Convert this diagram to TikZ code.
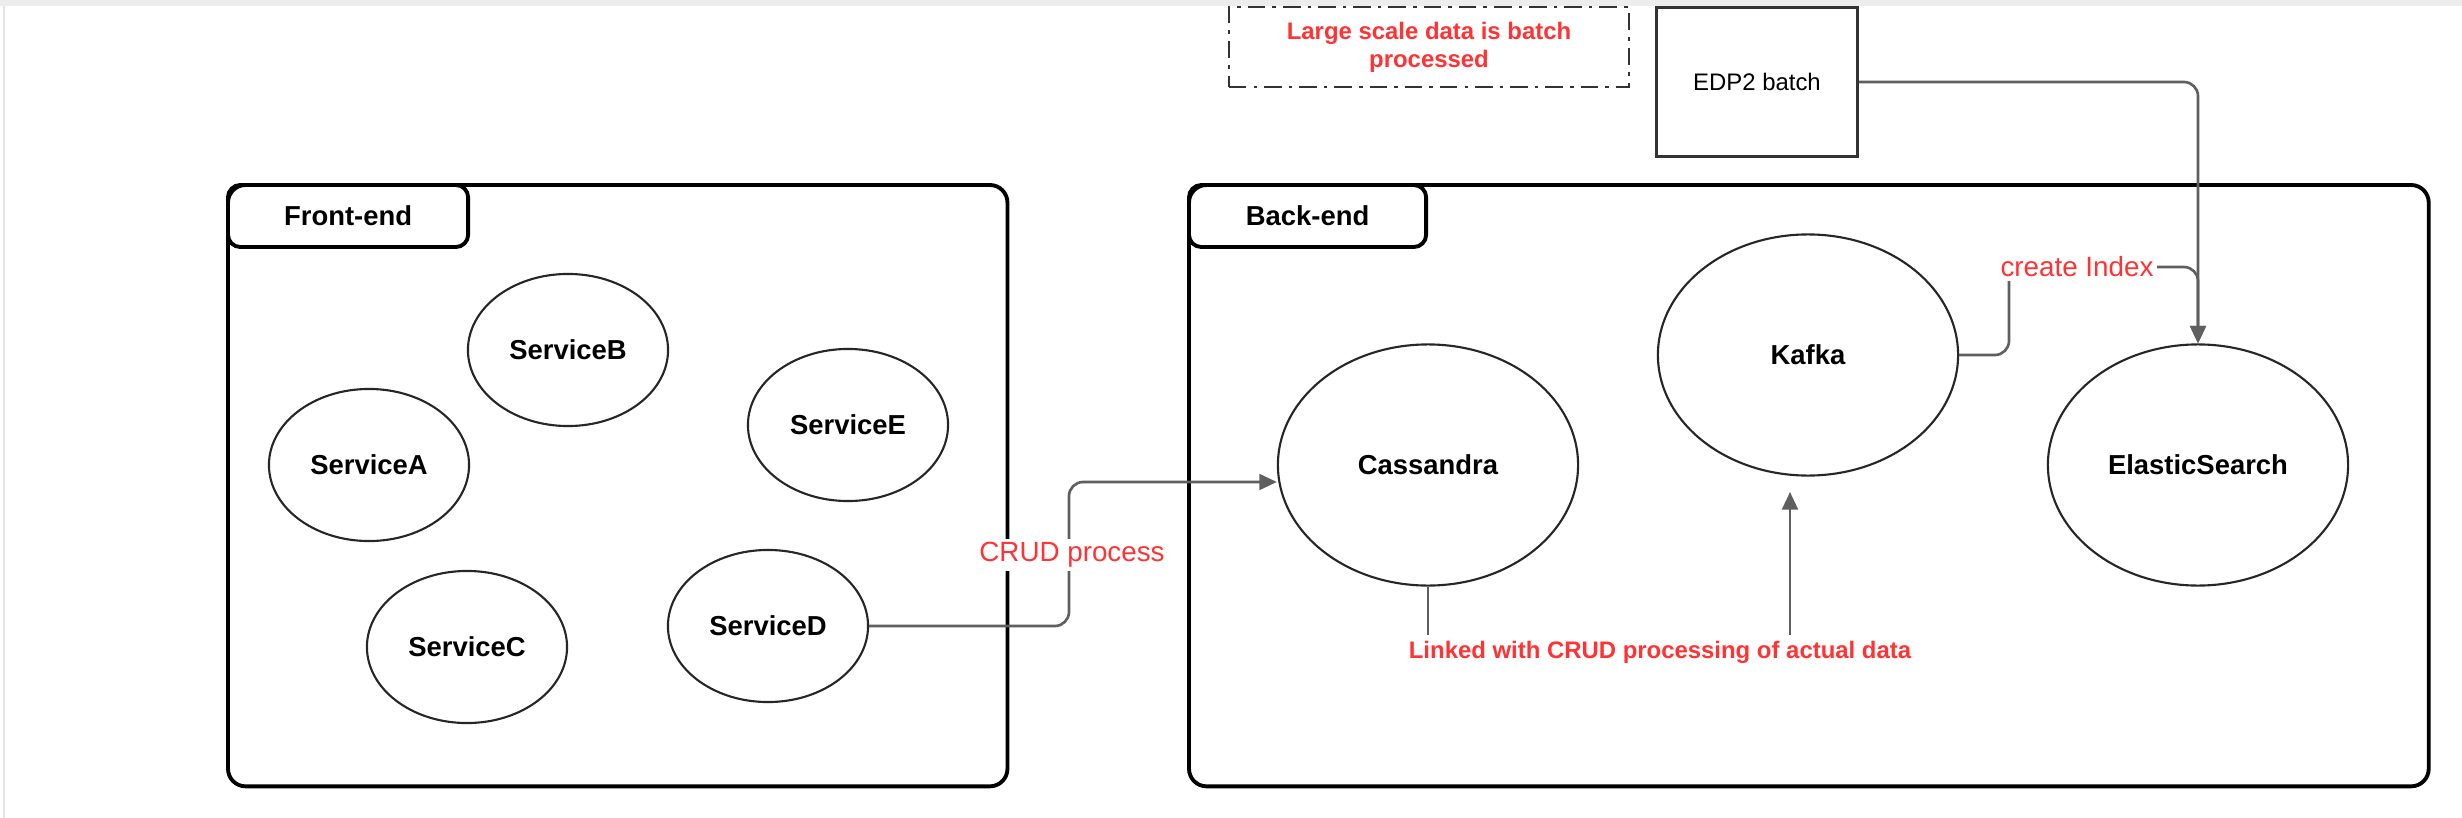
\documentclass[tikz,border=0pt]{standalone}
\usepackage{fontspec}
\setmainfont{Liberation Sans}
\usetikzlibrary{shapes.geometric,arrows.meta,positioning}

\definecolor{notered}{RGB}{255,51,51}
\definecolor{linegray}{RGB}{95,95,95}

\tikzset{
  container/.style={draw=black, line width=1.1pt, rounded corners=5pt, outer sep=0pt, anchor=north west},
  tabbox/.style={draw=black, line width=1.1pt, rounded corners=3.5pt, outer sep=0pt, anchor=north west,
    font=\fontsize{7.8}{9}\selectfont\bfseries},
  service/.style={ellipse, draw=black!85, line width=0.6pt, inner sep=0pt,
    font=\fontsize{7.8}{9}\selectfont\bfseries},
  smallsvc/.style={service, minimum width=2cm, minimum height=1.52cm},
  bigsvc/.style={service, minimum width=3cm, minimum height=2.41cm},
  batchbox/.style={draw=black!80, line width=0.9pt, minimum width=2.01cm, minimum height=1.49cm,
    font=\fontsize{6.8}{8}\selectfont},
  notebox/.style={draw=black!80, line width=0.5pt, dash pattern=on 5pt off 2pt on 1pt off 2pt,
    minimum width=4cm, minimum height=0.8cm, align=center, text=notered,
    font=\fontsize{6.8}{8}\selectfont\bfseries},
  conn/.style={draw=linegray, line width=0.75pt, rounded corners=4pt},
  tip/.style={-{Triangle[length=5pt,width=4.5pt]}},
  edgelabel/.style={fill=white, text=notered, inner sep=1pt, font=\fontsize{7.9}{9}\selectfont},
  linklabel/.style={text=notered, inner sep=1.5pt, font=\fontsize{6.8}{8}\selectfont\bfseries}
}

\begin{document}
\begin{tikzpicture}[x=0.01cm, y=-0.01cm]
    % Page and frame
    \useasboundingbox (0,0) rectangle (2462,818);
    \fill[white] (0,0) rectangle (2462,818);
    \fill[black!7] (0,0) rectangle (2462,6);
    \fill[black!10] (3,6) rectangle (5,818);

    % Containers
    \node[container, minimum width=7.79cm, minimum height=6.01cm] (frontend) at (228,185) {};
    \node[tabbox, minimum width=2.4cm, minimum height=0.62cm] (fronttab) at (frontend.north west) {Front-end};
    \node[container, minimum width=12.39cm, minimum height=6.01cm] (backend) at (1189,185) {};
    \node[tabbox, minimum width=2.37cm, minimum height=0.62cm] (backtab) at (backend.north west) {Back-end};

    % Front-end services
    \node[smallsvc] (servicea) at (369,465) {ServiceA};
    \node[smallsvc] (serviceb) at (568,350) {ServiceB};
    \node[smallsvc] (servicec) at (467,647) {ServiceC};
    \node[smallsvc] (serviced) at (768,626) {ServiceD};
    \node[smallsvc] (servicee) at (848,425) {ServiceE};

    % Back-end stores
    \node[bigsvc] (cassandra) at (1428,465) {Cassandra};
    \node[bigsvc] (kafka) at (1808,355) {Kafka};
    \node[bigsvc] (elastic) at (2198,465) {ElasticSearch};

    % Batch side
    \node[notebox] (note) at (1429,47) {Large scale data is batch\\processed};
    \node[batchbox] (edp) at (1757,82) {EDP2 batch};

    % CRUD connector
    \coordinate (crudturn) at (1069,482);
    \draw[conn, tip] (serviced.east) -| (crudturn) -- (crudturn -| cassandra.west);
    \node[edgelabel] (crud) at (1072,555) {CRUD process};

    % Index connectors
    \coordinate (indexturn) at (2009,267);
    \draw[conn, tip] (edp.east) -| (elastic.north);
    \draw[conn, tip] (kafka.east) -| (indexturn) -| (elastic.north);
    \node[edgelabel] (index) at (2077,267) {create Index};

    % Linked note
    \node[linklabel] (linked) at (1660,652) {Linked with CRUD processing of actual data};
    \coordinate (kafkain) at (1790,492);
    \draw[conn] (cassandra.south) -- (cassandra.south |- linked.north);
    \draw[conn, tip] (kafkain |- linked.north) -- (kafkain);
\end{tikzpicture}
\end{document}
